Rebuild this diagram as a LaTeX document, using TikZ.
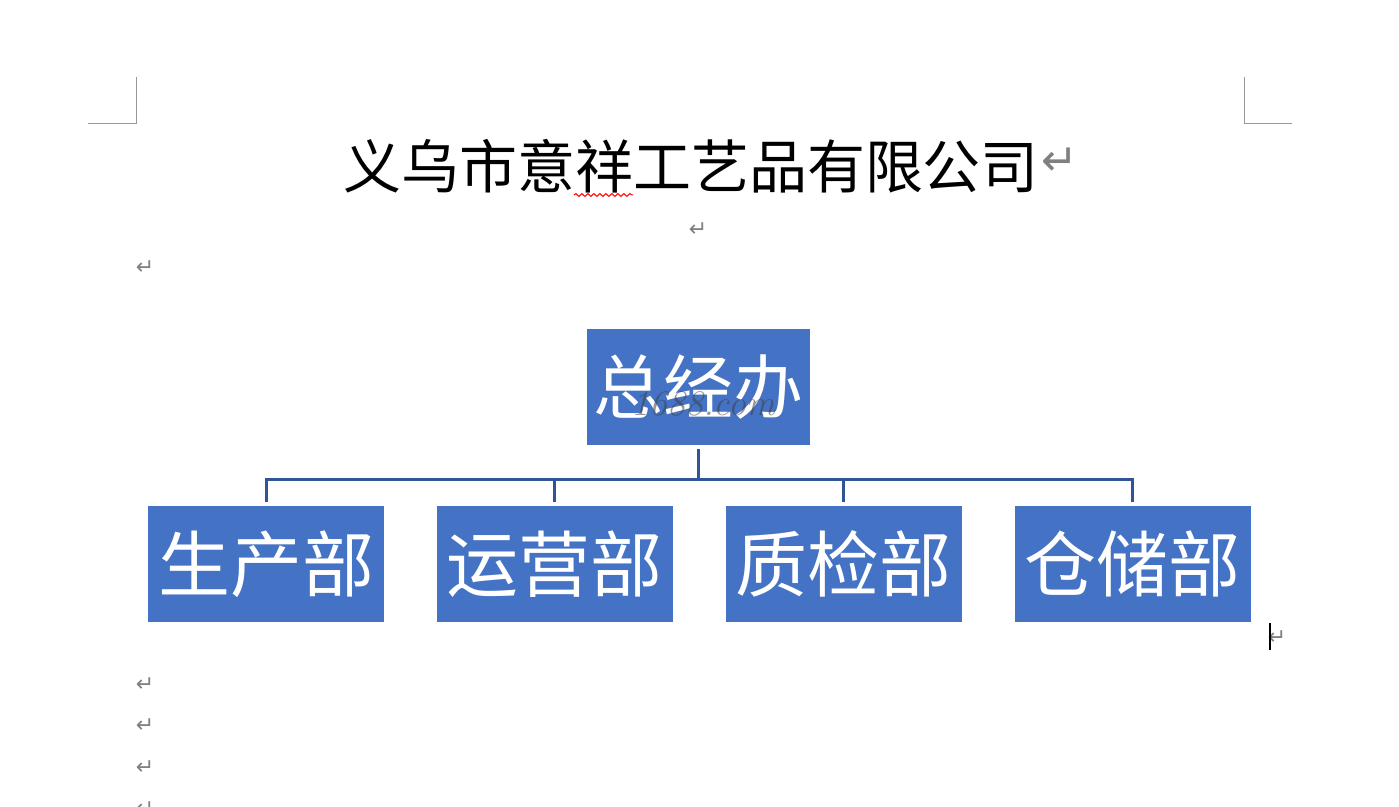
\documentclass[tikz,border=0pt]{standalone}
\usepackage{fontspec}
\newfontfamily\cjk{Noto Sans CJK SC}
\newfontfamily\dejavu{DejaVu Sans}
\usetikzlibrary{decorations.pathmorphing}
\definecolor{boxblue}{HTML}{4472C4}
\definecolor{lineblue}{HTML}{2F5597}
\definecolor{markgrey}{HTML}{808080}
\tikzset{
  orgbox/.style={fill=boxblue, draw=none, inner sep=0pt, text=white, font=\cjk\fontsize{36}{40}\selectfont},
  conn/.style={draw=lineblue, line width=1.5pt},
  retmark/.style={text=markgrey, font=\dejavu\fontsize{11}{12}\selectfont, inner sep=0pt},
  corner/.style={draw=markgrey!80, line width=0.5pt},
}
\begin{document}
\begin{tikzpicture}[x=0.5pt,y=-0.5pt]
\useasboundingbox[fill=white] (0,0) rectangle (1399,807);
% corner marks
\draw[corner] (136,77) -- (136,124) -- (88,124);
\draw[corner] (1244,77) -- (1244,124) -- (1292,124);
% title
\node[font=\cjk\fontsize{29}{32}\selectfont, inner sep=0pt] (title) at (691,166) {义乌市意祥工艺品有限公司};
\node[text=markgrey, font=\dejavu\fontsize{22}{24}\selectfont, inner sep=0pt] (titleret) at (1060,162) {↵};
\draw[red, line width=0.5pt, decorate, decoration={snake, amplitude=0.7pt, segment length=3pt}] (574,195) -- (633,195);
% paragraph marks
\node[retmark] (r1) at (698,230) {↵};
\node[retmark] (r2) at (145,268) {↵};
\node[retmark] (r3) at (1277,638) {↵};
\node[retmark] (r4) at (145,685) {↵};
\node[retmark] (r5) at (145,726) {↵};
\node[retmark] (r6) at (145,768) {↵};
\node[retmark] (r7) at (145,809) {↵};
% cursor
\draw[black, line width=1pt] (1270,623) -- (1270,650);
% boxes
\node[orgbox, minimum width=111.5pt, minimum height=58pt, font=\cjk\fontsize{35}{40}\selectfont] (top) at (698.5,387) {总经办};
\node[text=black!75, opacity=0.55, font=\rmfamily\itshape\fontsize{18}{20}\selectfont, inner sep=0pt] (wm) at (703,404) {1688.com};
\node[orgbox, minimum width=118pt, minimum height=58pt] (b1) at (266,564) {生产部};
\node[orgbox, minimum width=118pt, minimum height=58pt] (b2) at (554.5,564) {运营部};
\node[orgbox, minimum width=118pt, minimum height=58pt] (b3) at (843.5,564) {质检部};
\node[orgbox, minimum width=118pt, minimum height=58pt] (b4) at (1132.5,564) {仓储部};
% connectors
\coordinate (j) at (698.5,480);
\draw[conn, shorten <=2pt] (top.south) -- (j);
\draw[conn, shorten >=2pt] (j) -| (b1.north);
\draw[conn, shorten >=2pt] (j) -| (b2.north);
\draw[conn, shorten >=2pt] (j) -| (b3.north);
\draw[conn, shorten >=2pt] (j) -| (b4.north);
\end{tikzpicture}
\end{document}
